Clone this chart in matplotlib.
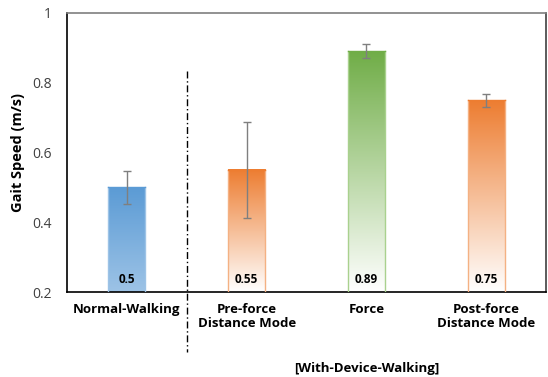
import numpy as np
import matplotlib.pyplot as plt
from matplotlib.colors import LinearSegmentedColormap

categories = ['Normal-Walking', 'Pre-force\nDistance Mode', 'Force', 'Post-force\nDistance Mode']
speeds = [0.5, 0.55, 0.89, 0.75]
errors = [0.047, 0.138, 0.02, 0.019]
value_labels = ['0.5', '0.55', '0.89', '0.75']
top_colors = ['#5B9BD5', '#ED7D31', '#70AD47', '#ED7D31']
bottom_colors = ['#9DC3E6', '#FFFFFF', '#FFFFFF', '#FFFFFF']
edge_colors = ['#9DC3E6', '#F4B183', '#A9D18E', '#F4B183']

plt.rcParams['font.family'] = ['Open Sans', 'DejaVu Sans']

fig = plt.figure(figsize=(5.48, 3.77), dpi=100)
ax = fig.add_axes([67/548, 1-292/377, 479/548, 279/377])

x = np.arange(len(categories))
width = 0.31
ymin = 0.2

for i in x:
    cmap = LinearSegmentedColormap.from_list('g', [bottom_colors[i], top_colors[i]])
    grad = np.linspace(0, 1, 256).reshape(-1, 1)
    left = i - width / 2
    ax.imshow(grad, cmap=cmap, origin='lower', aspect='auto',
              extent=[left, left + width, ymin, speeds[i]], zorder=2)
    # light side edges only, top edge takes the bar colour
    ax.plot([left, left], [ymin, speeds[i]], color=edge_colors[i], lw=1, zorder=3)
    ax.plot([left + width, left + width], [ymin, speeds[i]], color=edge_colors[i], lw=1, zorder=3)
    ax.plot([left, left + width], [speeds[i], speeds[i]], color=top_colors[i], lw=1, zorder=3)
    ax.errorbar(i, speeds[i], yerr=errors[i], color='#7f7f7f', capsize=3,
                elinewidth=1, capthick=1, zorder=4)
    ax.text(i, 0.235, value_labels[i], ha='center', va='center',
            fontsize=8.5, fontweight='bold', zorder=5)

ax.set_xlim(-0.5, 3.5)
ax.set_ylim(0.2, 1.0)
ax.set_yticks([0.2, 0.4, 0.6, 0.8, 1.0])
ax.set_yticklabels(['0.2', '0.4', '0.6', '0.8', '1'])
ax.tick_params(axis='y', length=0, labelsize=10, labelcolor='#404040', pad=11)
ax.set_xticks(x)
ax.set_xticklabels(categories, fontweight='bold', fontsize=9.5, linespacing=1.1)
ax.tick_params(axis='x', length=0, pad=8)
ax.set_ylabel('Gait Speed (m/s)', fontweight='bold', fontsize=10.5, labelpad=5)

ax.spines['left'].set_color('black')
ax.spines['bottom'].set_color('black')
ax.spines['top'].set_color('#7f7f7f')
ax.spines['right'].set_color('#404040')
for s in ax.spines.values():
    s.set_linewidth(1.2)

# divider between groups
ax.plot([0.5, 0.5], [0.834, 0.028], color='black', linestyle=(0, (5, 2, 1, 2)),
        linewidth=1, clip_on=False, zorder=1)

ax.text(2.0, -0.018, '[With-Device-Walking]', ha='center', va='center',
        fontsize=9.5, fontweight='bold')

fig.savefig('out.png', dpi=100)
